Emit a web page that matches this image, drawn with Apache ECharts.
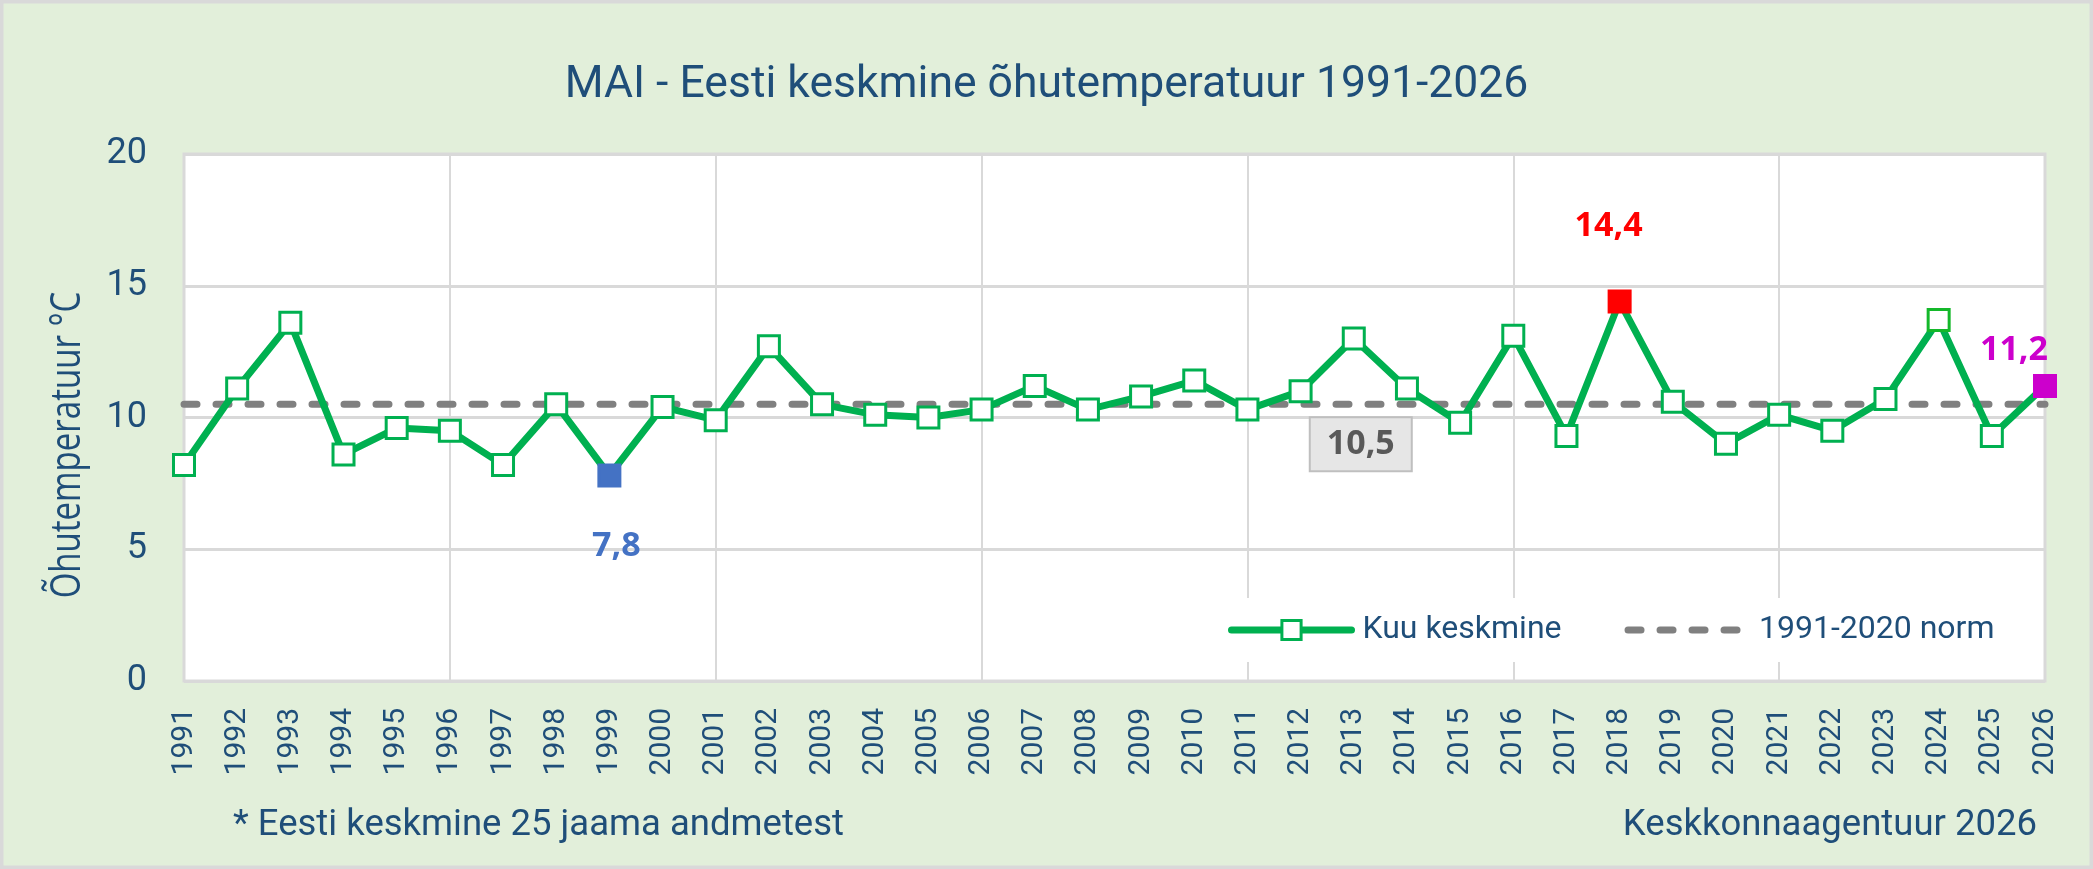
<!DOCTYPE html>
<html>
<head>
<meta charset="utf-8">
<title>MAI - Eesti keskmine õhutemperatuur 1991-2026</title>
<script src="https://cdn.jsdelivr.net/npm/echarts@6/dist/echarts.min.js"></script>
<style>
  html, body { margin: 0; padding: 0; background: #e2efda; }
  #chart { width: 2093px; height: 869px; }
</style>
</head>
<body>
<div id="chart"></div>
<script>
// aastad (x-telje sildid)
var years = ['1991', '1992', '1993', '1994', '1995', '1996', '1997', '1998', '1999', '2000',
  '2001', '2002', '2003', '2004', '2005', '2006', '2007', '2008', '2009', '2010',
  '2011', '2012', '2013', '2014', '2015', '2016', '2017', '2018', '2019', '2020',
  '2021', '2022', '2023', '2024', '2025', '2026'];

// mai keskmine temperatuur
var monthAvg = [8.2, 11.1, 13.6, 8.6, 9.6, 9.5, 8.2, 10.5, 7.8, 10.4,
  9.9, 12.7, 10.5, 10.1, 10.0, 10.3, 11.2, 10.3, 10.8, 11.4,
  10.3, 11.0, 13.0, 11.1, 9.8, 13.1, 9.3, 14.4, 10.6, 9.0,
  10.1, 9.5, 10.7, 13.7, 9.3, 11.2];

// 1991-2020 norm
var normValue = 10.5;
var normLabelYear = '2013';

var yTicks = [0, 5, 10, 15, 20];

var minYear = '1999';
var maxYear = '2018';
var lastYear = '2026';

var blue = '#1f4e79';
var green = '#00b050';

function comma(v) {
  return String(Number(v).toFixed(1)).replace('.', ',');
}

var avgData = monthAvg.map(function (v, i) {
  var item = { value: v };
  var y = years[i];
  var lbl = { show: true, position: 'inside', fontFamily: 'Open Sans', fontWeight: 'bold', fontSize: 34,
    formatter: function (p) { return comma(p.value); } };
  if (y === minYear) {
    item.itemStyle = { color: '#4472c4', borderColor: '#4472c4' };
    item.label = Object.assign({}, lbl, { color: '#4472c4', offset: [7, 71] });
  } else if (y === maxYear) {
    item.itemStyle = { color: '#ff0000', borderColor: '#ff0000' };
    item.label = Object.assign({}, lbl, { color: '#ff0000', offset: [-11, -75] });
  } else if (y === lastYear) {
    item.itemStyle = { color: '#cc00cc', borderColor: '#cc00cc' };
    item.label = Object.assign({}, lbl, { color: '#cc00cc', offset: [-31, -36] });
  } else if (y === '2024') {
    item.itemStyle = { borderColor: '#14b82a' };
  }
  return item;
});

var normData = years.map(function () { return normValue; });

var chart = echarts.init(document.getElementById('chart'), null, { renderer: 'canvas' });

var option = {
  backgroundColor: '#e2efda',
  animation: false,
  title: {
    text: 'MAI - Eesti keskmine õhutemperatuur 1991-2026',
    left: 'center',
    top: 63,
    padding: 0,
    textStyle: { fontFamily: 'Roboto', fontWeight: 'normal', fontSize: 44.5, color: blue }
  },
  grid: {
    left: 184, right: 48, top: 154, bottom: 188,
    show: true, backgroundColor: '#ffffff', borderColor: '#d9d9d9', borderWidth: 3
  },
  legend: {
    left: 1213,
    top: 598,
    itemWidth: 120,
    itemHeight: 24,
    itemGap: 63,
    padding: [16, 15, 16, 15],
    backgroundColor: '#ffffff',
    textStyle: { fontFamily: 'Roboto', fontSize: 32, color: blue, padding: [0, 0, 0, 6] },
    data: [
      {
        name: 'Kuu keskmine',
        itemStyle: { color: '#ffffff', borderColor: green, borderWidth: 3 },
        lineStyle: { color: green, width: 7, cap: 'round' }
      },
      {
        name: '1991-2020 norm',
        itemStyle: { opacity: 0 },
        lineStyle: { color: '#808080', width: 7, type: [13, 19], cap: 'round' }
      }
    ]
  },
  xAxis: {
    type: 'category',
    data: years,
    boundaryGap: false,
    axisLine: { show: false },
    axisTick: { show: false },
    axisLabel: {
      interval: 0, rotate: 90, margin: 27,
      fontFamily: 'Roboto', fontSize: 30, color: blue
    },
    splitLine: {
      show: true,
      interval: function (index) { return index % 5 === 0; },
      lineStyle: { color: '#d9d9d9', width: 2 }
    }
  },
  yAxis: {
    type: 'value',
    min: yTicks[0],
    max: yTicks[yTicks.length - 1],
    interval: 5,
    axisLine: { show: false },
    axisTick: { show: false },
    axisLabel: { margin: 37, fontFamily: 'Roboto', fontSize: 36, color: blue },
    splitLine: { lineStyle: { color: '#d9d9d9', width: 3 } }
  },
  series: [
    {
      name: '1991-2020 norm',
      type: 'line',
      data: normData,
      symbol: 'none',
      z: 3,
      color: '#808080',
      lineStyle: { color: '#808080', width: 7, type: [13, 19], cap: 'round' },
      markPoint: {
        symbol: 'rect',
        symbolSize: 1,
        itemStyle: { color: 'rgba(0,0,0,0)' },
        data: [{ coord: [normLabelYear, normValue], value: normValue }],
        label: {
          show: true, position: 'inside', offset: [7, 40],
          formatter: function (p) { return comma(p.value); },
          fontFamily: 'Open Sans', fontWeight: 'bold', fontSize: 34, color: '#595959',
          backgroundColor: '#e6e6e6', borderColor: '#bfbfbf', borderWidth: 2,
          padding: [10, 16, 8, 16]
        }
      }
    },
    {
      name: 'Kuu keskmine',
      type: 'line',
      data: avgData,
      z: 4,
      symbol: 'rect',
      symbolSize: 21,
      color: green,
      lineStyle: { color: green, width: 7 },
      itemStyle: { color: '#ffffff', borderColor: green, borderWidth: 3 }
    }
  ],
  graphic: [
    {
      type: 'text',
      x: 68, y: 445,
      rotation: Math.PI / 2,
      scaleY: 1.25,
      style: {
        text: 'Õhutemperatuur °C',
        fontFamily: 'Open Sans', fontSize: 33, fill: blue,
        align: 'center', verticalAlign: 'middle'
      }
    },
    {
      type: 'text',
      x: 233, y: 826,
      style: { text: '* Eesti keskmine 25 jaama andmetest', fontFamily: 'Roboto', fontSize: 36.5, fill: blue,
        verticalAlign: 'middle' }
    },
    {
      type: 'text',
      x: 2037, y: 826,
      style: { text: 'Keskkonnaagentuur 2026', fontFamily: 'Roboto', fontSize: 36.5, fill: blue,
        align: 'right', verticalAlign: 'middle' }
    },
    {
      type: 'rect',
      x: 0, y: 0, z: 100,
      shape: { width: 2093, height: 869 },
      style: { fill: 'none', stroke: '#d9d9d9', lineWidth: 7 }
    }
  ]
};

chart.setOption(option);
</script>
</body>
</html>
